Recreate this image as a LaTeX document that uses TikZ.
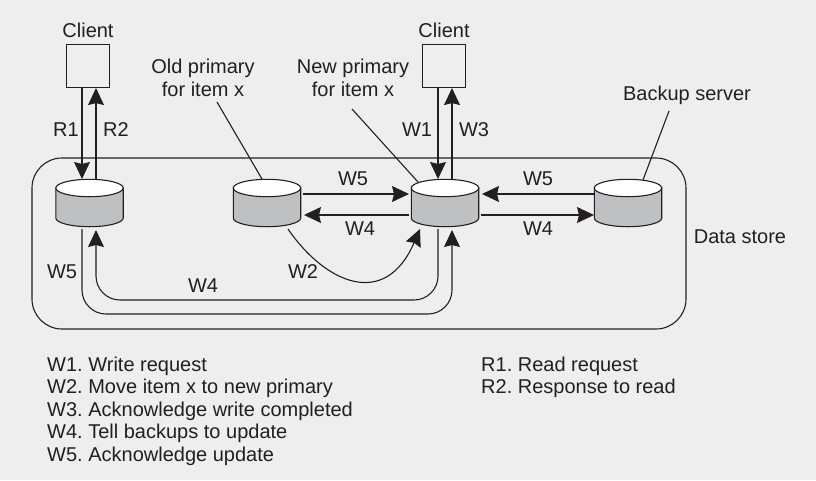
\documentclass[tikz,border=0pt]{standalone}
\usepackage{fontspec}
\setmainfont{Liberation Sans}
\frenchspacing
\usetikzlibrary{arrows.meta}
\definecolor{bgcol}{HTML}{EEEEEE}
\definecolor{diskcol}{HTML}{BFC0C2}
\definecolor{inkcol}{HTML}{231F20}
\tikzset{
  every node/.style={font=\fontsize{20}{22.5}\selectfont,text=inkcol,inner sep=0pt},
  wire/.style={draw=inkcol,line width=1.1pt},
  disk/.style={minimum width=69pt,minimum height=49pt,path picture={
    \begin{scope}[shift={(path picture bounding box.center)},x=1pt,y=1pt]
      \draw [wire,fill=diskcol] (-33.7,15) -- (-33.7,-15) arc (180:360:33.7 and 8.7) -- (33.7,15) -- cycle;
      \draw [wire,fill=white] (0,15) ellipse (33.7 and 8.7);
    \end{scope}}},
  clientbox/.style={draw=inkcol,line width=1.1pt,minimum width=43pt,minimum height=43pt},
  arrow/.style={wire,-{Stealth[length=17pt,width=16pt,inset=2pt]}},
  bentarrow/.style={arrow,rounded corners=24pt},
  note/.style={align=left,anchor=north west}
}
\begin{document}
\begin{tikzpicture}[x=1pt,y=-1pt]
      \fill [bgcol] (0,0) rectangle (816,480);
      \useasboundingbox (0,0) rectangle (816,480);

      \draw [wire,rounded corners=30pt] (32,158) rectangle (686,329);

      \node [clientbox] (C1) at (88,66) {};
      \node [clientbox] (C2) at (444,66) {};
      \node [disk] (D1) at (89.5,203) {};
      \node [disk] (D2) at (267,203) {};
      \node [disk] (D3) at (445,203) {};
      \node [disk] (D4) at (628,203) {};

      \coordinate (a1) at (82,179);
      \coordinate (a2) at (96,179);
      \coordinate (a3) at (438,179);
      \coordinate (a4) at (452,179);
      \coordinate (b1) at (82,229);
      \coordinate (b2) at (96,230);
      \coordinate (b3) at (438,229);
      \coordinate (b4) at (452,230);

      \draw [arrow] (a1 |- C1.south) -- (a1);
      \draw [arrow] (a2) -- (a2 |- C1.south);
      \draw [arrow] (a3 |- C2.south) -- (a3);
      \draw [arrow] (a4) -- (a4 |- C2.south);

      \draw [bentarrow] (b3) -- (438,300) -- (96,300) -- (b2);
      \draw [bentarrow] (b1) -- (82,314) -- (452,314) -- (b4);

      \coordinate (e1) at (303,194);
      \coordinate (e2) at (409,194);
      \coordinate (e3) at (304,215);
      \coordinate (e4) at (409,215);
      \coordinate (e5) at (594,194);
      \coordinate (e6) at (482,194);
      \coordinate (e7) at (481,215);
      \coordinate (e8) at (594,215);
      \foreach \from/\to in {e1/e2,e4/e3,e5/e6,e7/e8}
        \draw [arrow] (\from) -- (\to);

      \coordinate (m1) at (288,229);
      \coordinate (m2) at (420,229);
      \draw [arrow] (m1) .. controls (325,283) and (385,310) .. (m2);

      \node (client1) at (88,30) {Client};
      \node (client2) at (444,30) {Client};
      \node [align=center] (old) at (203,78) {Old primary\\for item x};
      \node [align=center] (new) at (353,78) {New primary\\for item x};
      \node (backup) at (687,95) {Backup server};
      \node (store) at (740,237) {Data store};

      \coordinate (l1) at (262,179);
      \coordinate (l2) at (418,182);
      \coordinate (l3) at (643,180);
      \draw [wire] (217,102) -- (l1);
      \draw [wire] (352,109) -- (l2);
      \draw [wire] (669,111) -- (l3);

      \node (r1) at (66,130) {R1};
      \node (r2) at (116,130) {R2};
      \node (w1) at (417,130) {W1};
      \node (w3) at (474,130) {W3};
      \node (w5a) at (353,179) {W5};
      \node (w4a) at (360,229) {W4};
      \node (w5b) at (538,179) {W5};
      \node (w4b) at (538,229) {W4};
      \node (w5c) at (62,272) {W5};
      \node (w4c) at (203,286) {W4};
      \node (w2) at (303,272) {W2};

      \node [note] (notes) at (47,356.5) {W1. Write request\\W2. Move item x to new primary\\W3. Acknowledge write completed\\W4. Tell backups to update\\W5. Acknowledge update};
      \node [note] (reads) at (481,356.5) {R1. Read request\\R2. Response to read};
    \end{tikzpicture}
\end{document}
